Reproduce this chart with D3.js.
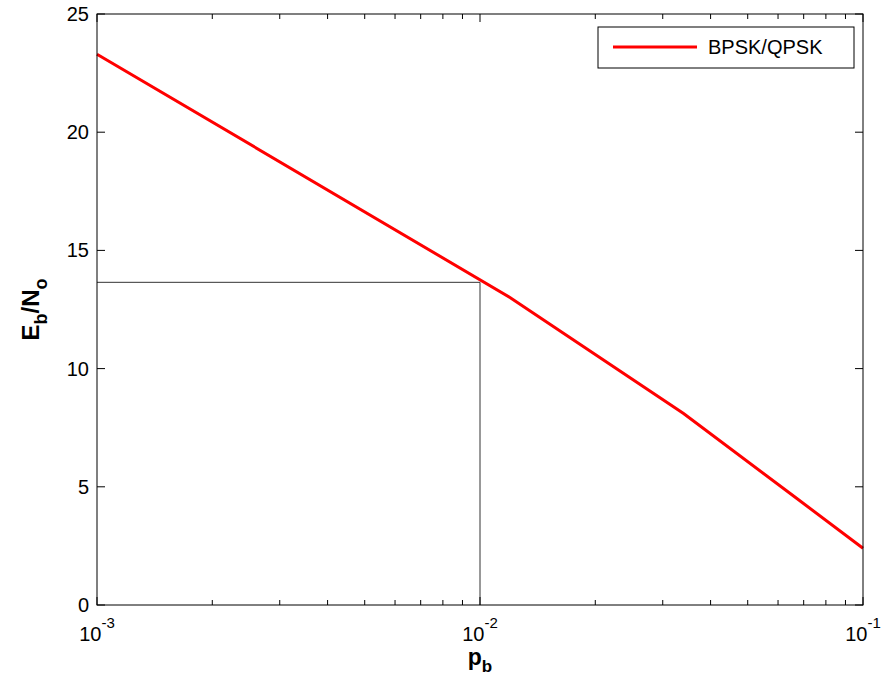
<!DOCTYPE html>
<html>
<head>
<meta charset="utf-8">
<script src="https://cdn.jsdelivr.net/npm/d3@7"></script>
<style>
  body { margin:0; background:#fff; }
  svg text { font-family: "Liberation Sans", Arial, sans-serif; }
</style>
</head>
<body>
<div id="chart"></div>
<script>
// data
const pb = [0.001, 0.012, 0.034, 0.066, 0.1];
const ebno = [23.3, 13.0, 8.1, 4.6, 2.4];
const markP = 0.01;
const markE = 13.65;
const yTicks = [0, 5, 10, 15, 20, 25];
const xMajor = [1e-3, 1e-2, 1e-1];
const seriesName = 'BPSK/QPSK';

const W = 883, H = 696;
const m = {left:97, right:20, top:14, bottom:91};

const svg = d3.select('#chart').append('svg')
  .attr('width', W).attr('height', H);

const x = d3.scaleLog().domain([1e-3, 1e-1]).range([m.left, W - m.right]);
const y = d3.scaleLinear().domain([0, 25]).range([H - m.bottom, m.top]);

const x0 = x.range()[0], x1 = x.range()[1];
const y0 = y.range()[0], y1 = y.range()[1];

// minor ticks 2..9 per decade
const xMinor = [];
[1e-3, 1e-2].forEach(function (d) {
  for (let k = 2; k <= 9; k++) xMinor.push(d * k);
});

const g = svg.append('g');

// reference lines
g.append('path')
  .attr('d', 'M' + x0 + ',' + y(markE) + 'H' + x(markP) + 'V' + y0)
  .attr('fill', 'none').attr('stroke', '#333').attr('stroke-width', 1);

// curve
const line = d3.line().x(function (d, i) { return x(pb[i]); }).y(function (d) { return y(d); });
g.append('path')
  .datum(ebno)
  .attr('d', line)
  .attr('fill', 'none').attr('stroke', '#ff0000').attr('stroke-width', 3);

// axes box
g.append('rect')
  .attr('x', x0).attr('y', y1).attr('width', x1 - x0).attr('height', y0 - y1)
  .attr('fill', 'none').attr('stroke', '#000').attr('stroke-width', 1);

// ticks (inward, all sides)
const tk = g.append('g').attr('stroke', '#000').attr('stroke-width', 1);
yTicks.forEach(function (v) {
  tk.append('line').attr('x1', x0).attr('x2', x0 + 8).attr('y1', y(v)).attr('y2', y(v));
  tk.append('line').attr('x1', x1).attr('x2', x1 - 8).attr('y1', y(v)).attr('y2', y(v));
});
xMajor.forEach(function (v) {
  tk.append('line').attr('x1', x(v)).attr('x2', x(v)).attr('y1', y0).attr('y2', y0 - 8);
  tk.append('line').attr('x1', x(v)).attr('x2', x(v)).attr('y1', y1).attr('y2', y1 + 8);
});
xMinor.forEach(function (v) {
  tk.append('line').attr('x1', x(v)).attr('x2', x(v)).attr('y1', y0).attr('y2', y0 - 5);
  tk.append('line').attr('x1', x(v)).attr('x2', x(v)).attr('y1', y1).attr('y2', y1 + 5);
});

// tick labels
yTicks.forEach(function (v) {
  g.append('text').attr('x', x0 - 8).attr('y', y(v) + 7)
    .attr('text-anchor', 'end').attr('font-size', 20).text(v);
});
xMajor.forEach(function (v) {
  const e = Math.round(Math.log10(v));
  const t = g.append('text').attr('x', x(v)).attr('y', y0 + 36)
    .attr('text-anchor', 'middle').attr('font-size', 20);
  t.append('tspan').text('10');
  t.append('tspan').attr('dy', -13).attr('font-size', 15).text(e);
});

// axis labels
const xl = g.append('text').attr('x', 480).attr('y', y0 + 60)
  .attr('text-anchor', 'middle').attr('font-size', 23).attr('font-weight', 'bold');
xl.append('tspan').text('p');
xl.append('tspan').attr('dy', 7).attr('font-size', 17).text('b');

const yl = g.append('text')
  .attr('transform', 'translate(39,' + ((y0 + y1) / 2) + ') rotate(-90)')
  .attr('text-anchor', 'middle').attr('font-size', 24).attr('font-weight', 'bold');
yl.append('tspan').text('E');
yl.append('tspan').attr('dy', 8).attr('font-size', 18).text('b');
yl.append('tspan').attr('dy', -8).text('/N');
yl.append('tspan').attr('dy', 8).attr('font-size', 18).text('o');

// legend
const lg = g.append('g').attr('transform', 'translate(598,27)');
lg.append('rect').attr('width', 256).attr('height', 41)
  .attr('fill', '#fff').attr('stroke', '#000').attr('stroke-width', 1);
lg.append('line').attr('x1', 15).attr('x2', 99).attr('y1', 20).attr('y2', 20)
  .attr('stroke', '#ff0000').attr('stroke-width', 3);
lg.append('text').attr('x', 110).attr('y', 27).attr('font-size', 20).text(seriesName);
</script>
</body>
</html>
